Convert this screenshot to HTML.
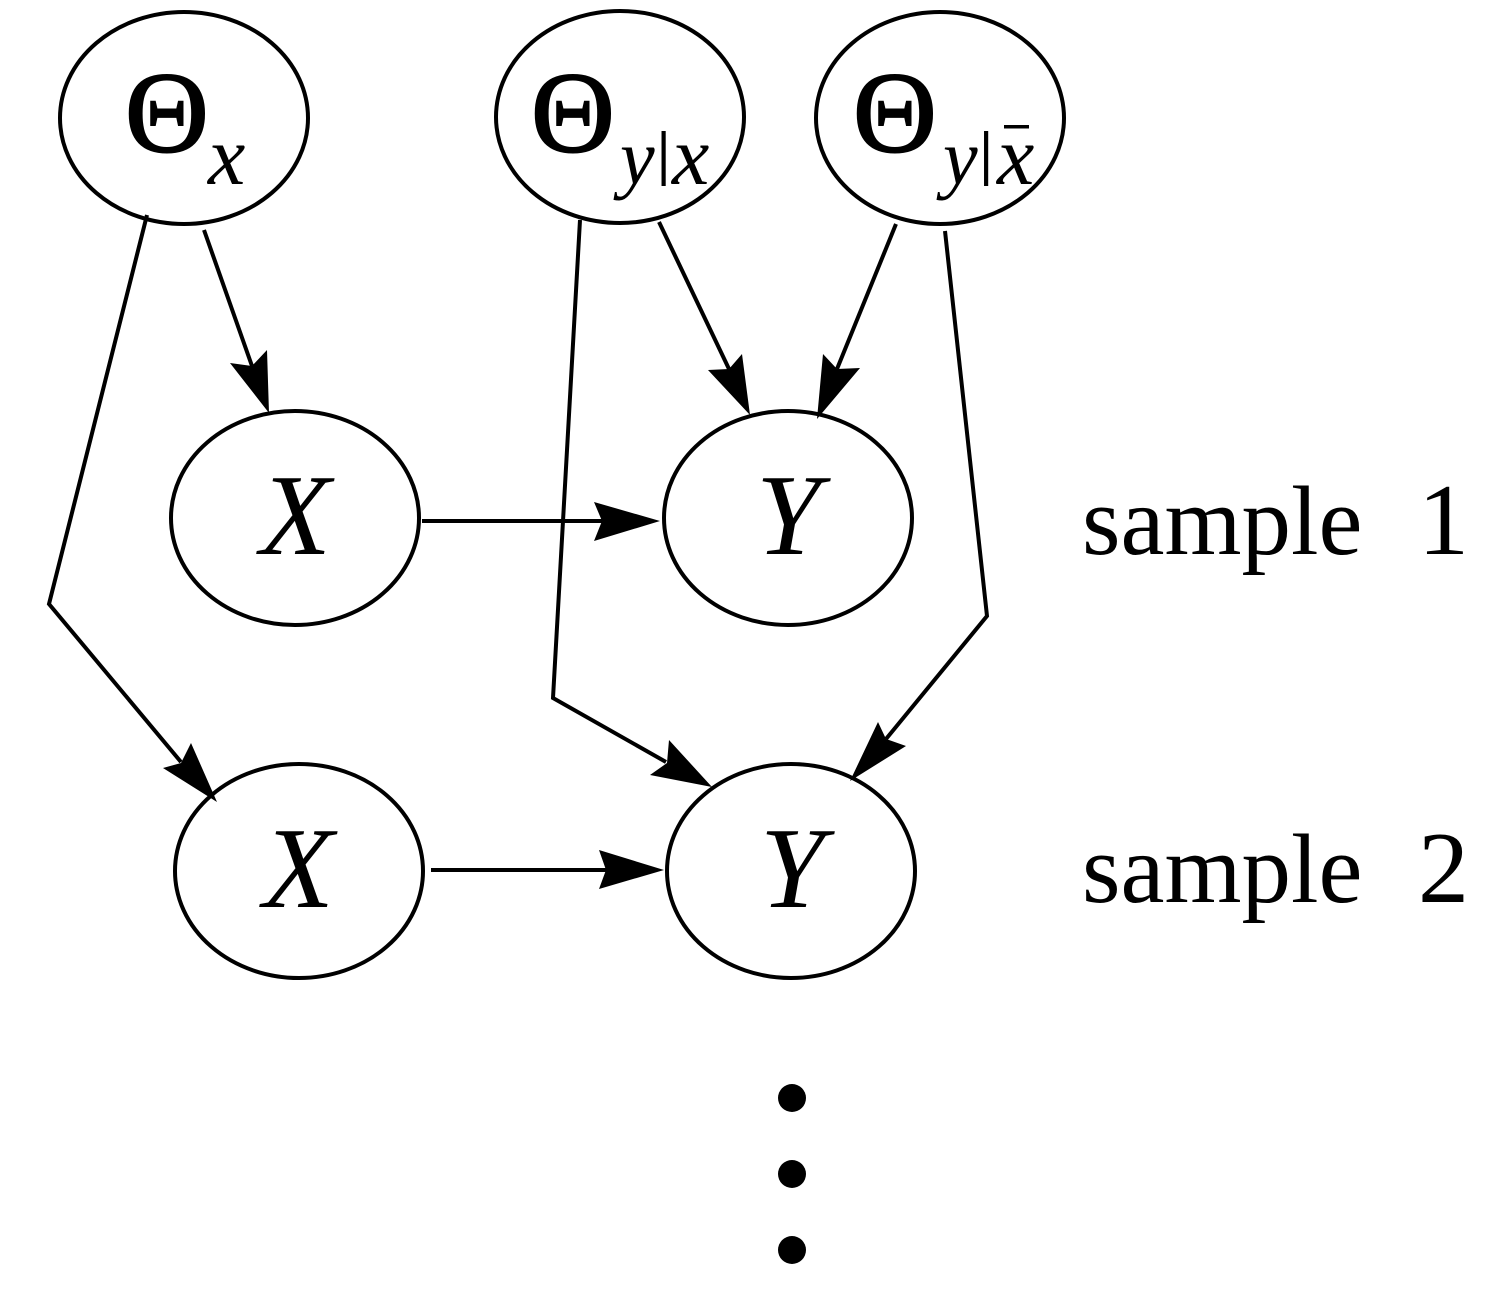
<!DOCTYPE html>
<html>
<head>
<meta charset="utf-8">
<style>
html,body{margin:0;padding:0;background:#fff;}
svg{display:block;}
text{font-family:"Liberation Serif",serif;fill:#000;}
.i{font-style:italic;}
.t{font-size:116px;stroke:#000;stroke-width:2px;}
.s{font-size:84px;font-style:italic;}
.y{font-size:78px;font-style:italic;}
.p{font-size:60px;font-weight:bold;}
.c{font-size:116px;font-style:italic;}
</style>
</head>
<body>
<svg width="1500" height="1292" viewBox="0 0 1500 1292" xmlns="http://www.w3.org/2000/svg">
<g fill="none" stroke="#000" stroke-width="4">
<ellipse cx="184" cy="118" rx="124" ry="106"/>
<ellipse cx="620" cy="117" rx="124" ry="106"/>
<ellipse cx="940" cy="118" rx="124" ry="106"/>
<ellipse cx="295" cy="518" rx="124" ry="107"/>
<ellipse cx="788" cy="518" rx="124" ry="107"/>
<ellipse cx="299" cy="871" rx="124" ry="107"/>
<ellipse cx="791" cy="871" rx="124" ry="107"/>
<polyline points="204,230 252,366"/>
<polyline points="147,215 49,604 181,762"/>
<polyline points="659,222 729,369"/>
<polyline points="896,224 837,369"/>
<polyline points="580,220 553,698 666,762"/>
<polyline points="945,231 987,616 886,739"/>
<line x1="422" y1="521" x2="604" y2="521"/>
<line x1="431" y1="870" x2="608" y2="870"/>
</g>
<g fill="#000">
<polygon points="269,413 230,363 252,366 267,350"/>
<polygon points="217,802 163,768 181,763 191,743"/>
<polygon points="750,415 708,370 729,369 742,354"/>
<polygon points="817,419 823,354 837,369 860,368"/>
<polygon points="712,787 650,775 667,763 669,740"/>
<polygon points="850,781 878,722 886,739 906,746"/>
<polygon points="660,521 594,502 602,521 594,541"/>
<polygon points="664,870 599,850 606,870 599,889"/>
<circle cx="792" cy="1098" r="14"/>
<circle cx="792" cy="1174" r="14"/>
<circle cx="792" cy="1250" r="14"/>
</g>
<text x="125" y="151.5" class="t">Θ</text>
<text x="208" y="184" class="s">x</text>
<text x="531" y="151.5" class="t">Θ</text>
<text x="620" y="184" class="y">y</text>
<text x="657" y="173" class="p">|</text>
<text x="672" y="184" class="s">x</text>
<text x="853" y="151.5" class="t">Θ</text>
<text x="943" y="184" class="y">y</text>
<text x="979.5" y="173" class="p">|</text>
<text x="997" y="184" class="s">x</text>
<rect x="1004" y="125" width="25" height="3.5" fill="#000"/>
<text x="260" y="554" class="c">X</text>
<text x="756" y="554" class="c">Y</text>
<text x="263" y="907" class="c">X</text>
<text x="760" y="907" class="c">Y</text>
<text x="1082" y="554" font-size="99">sample</text>
<text x="1418" y="554" font-size="102">1</text>
<text x="1082" y="902" font-size="99">sample</text>
<text x="1418" y="902" font-size="102">2</text>
</svg>
</body>
</html>
